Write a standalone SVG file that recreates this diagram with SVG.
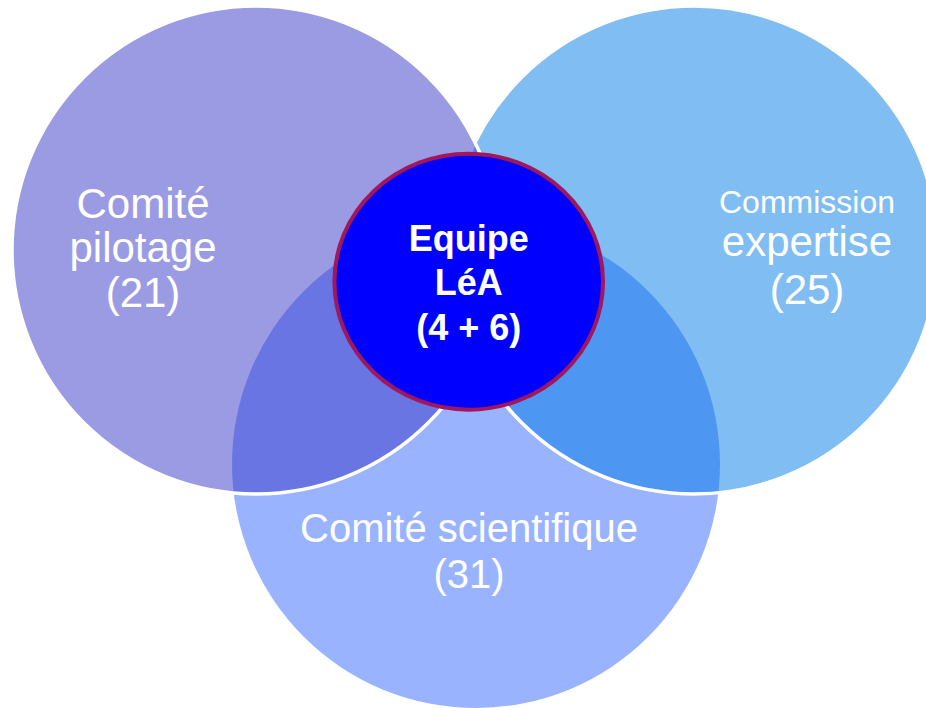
<svg xmlns="http://www.w3.org/2000/svg" width="926" height="708" viewBox="0 0 926 708">
  <style>
    .lbl { font-family: "Liberation Sans", Arial, sans-serif; fill: #FFFFFF; text-anchor: middle; }
    .big { font-size: 42px; }
    .mid { font-size: 40px; }
    .small { font-size: 32px; }
    .bold { font-size: 36px; font-weight: bold; }
    .venn { stroke: #FFFFFF; stroke-width: 3.5; }
  </style>
  <rect x="0" y="0" width="926" height="708" fill="#FFFFFF"/>
  <g id="comite-scientifique">
    <circle cx="476" cy="464" r="244" fill="#99B3FF"/>
    <text class="lbl mid" x="469" y="542">Comité scientifique</text>
    <text class="lbl mid" x="469" y="588">(31)</text>
  </g>
  <g id="commission-expertise">
    <circle class="venn" cx="694" cy="250" r="244" fill="#017BE5" fill-opacity="0.5"/>
  </g>
  <g id="comite-pilotage">
    <circle class="venn" cx="256" cy="250" r="244" fill="#3737C7" fill-opacity="0.5"/>
  </g>
  <g id="labels-outer">
    <text class="lbl big" x="143" y="218">Comité</text>
    <text class="lbl big" x="143" y="262">pilotage</text>
    <text class="lbl big" x="143" y="307">(21)</text>
    <text class="lbl small" x="807" y="213">Commission</text>
    <text class="lbl big" x="807" y="256">expertise</text>
    <text class="lbl big" x="807" y="304">(25)</text>
  </g>
  <g id="equipe-lea">
    <ellipse cx="468.7" cy="281.7" rx="134.3" ry="128" fill="#0000FF" stroke="#A0175E" stroke-width="4"/>
    <text class="lbl bold" x="468.7" y="251">Equipe</text>
    <text class="lbl bold" x="468.7" y="295">LéA</text>
    <text class="lbl bold" x="468.7" y="339.5">(4 + 6)</text>
  </g>
  <g id="connectors"/>
</svg>
